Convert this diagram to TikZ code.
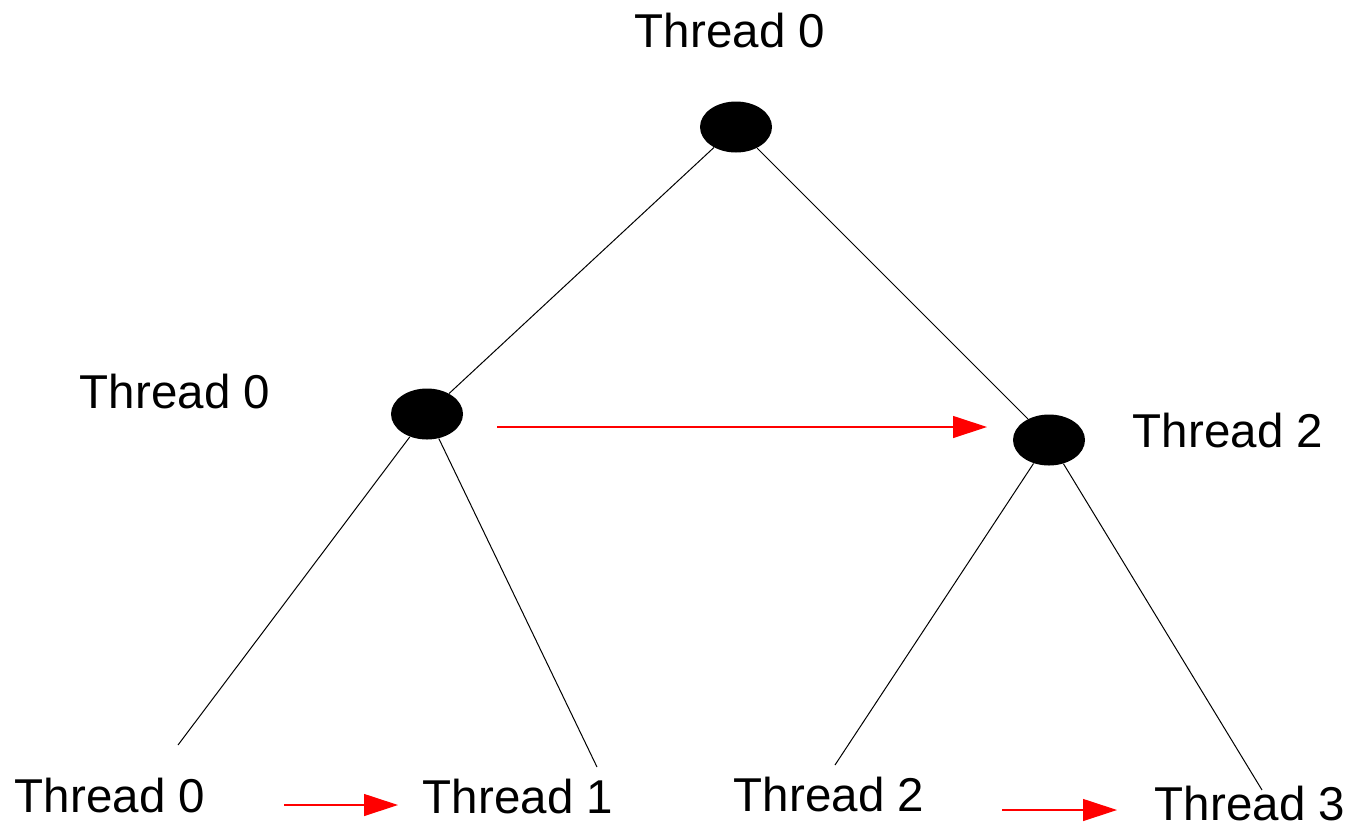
\documentclass[tikz,border=0pt]{standalone}
\usepackage{fontspec}
\setmainfont{Liberation Sans}
\usepackage{tikz}
\usetikzlibrary{arrows.meta,shapes.geometric}
\tikzstyle{fork} = [ellipse,fill=black,inner sep=0pt,minimum width=36pt,minimum height=25.5pt]
\tikzstyle{tname} = [anchor=base,inner sep=0pt,font=\fontsize{23.75}{28}\selectfont]

\begin{document}
\begin{tikzpicture}[x=0.5pt,y=-0.5pt,>={Triangle[length=17pt,width=11pt]},
                    edge/.style = {draw=black,line width=0.5pt},
                    pass/.style = {->,draw=red,fill=red,line width=0.6pt}
                        ]
    \useasboundingbox (0,0) rectangle (1350,826);
    % We start by placing the forks of the tree
    \node [fork] (top) at (736,127) {};
    \node [fork] (midl) at (427,414) {};
    \node [fork] (midr) at (1049,440) {};
    % loose ends of the leaf edges
    \coordinate (leaf0) at (178,745);
    \coordinate (leaf1) at (597,767);
    \coordinate (leaf2) at (835,765);
    \coordinate (leaf3) at (1262,790);

    % Thread names
    \node [tname] (ttop) at (730,47) {Thread 0};
    \node [tname] (tmidl) at (175,408) {Thread 0};
    \node [tname] (tmidr) at (1228,447) {Thread 2};
    \node [tname] (tleaf0) at (110,812) {Thread 0};
    \node [tname] (tleaf1) at (518,813) {Thread 1};
    \node [tname] (tleaf2) at (829,811) {Thread 2};
    \node [tname] (tleaf3) at (1250,820) {Thread 3};

    % ends of the red hand-over arrows
    \coordinate (p0a) at (497,427);
    \coordinate (p0b) at (987,427);
    \coordinate (p1a) at (284,805);
    \coordinate (p1b) at (398,805);
    \coordinate (p2a) at (1002,810);
    \coordinate (p2b) at (1117,810);

    % Once the nodes are placed, the edges go between them
    \draw [edge] (top) -- (midl);
    \draw [edge] (top) -- (midr);
    \draw [edge] (midl) -- (leaf0);
    \draw [edge] (midl) -- (leaf1);
    \draw [edge] (midr) -- (leaf2);
    \draw [edge] (midr) -- (leaf3);

    \draw [pass] (p0a) -- (p0b);
    \draw [pass] (p1a) -- (p1b);
    \draw [pass] (p2a) -- (p2b);

\end{tikzpicture}
\end{document}
